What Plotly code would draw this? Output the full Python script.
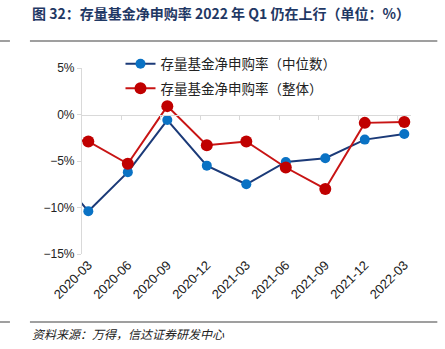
import plotly.graph_objects as go

categories = ["2019-12", "2020-03", "2020-06", "2020-09", "2020-12", "2021-03",
              "2021-06", "2021-09", "2021-12", "2022-03"]
median_vals = [-5.4, -10.4, -6.2, -0.6, -5.5, -7.5, -5.1, -4.7, -2.7, -2.1]
overall_vals = [-2.2, -2.9, -5.3, 0.9, -3.3, -2.9, -5.7, -8.0, -0.9, -0.8]
yticks = [5, 0, -5, -10, -15]
ytick_text = ["5%", "0%", "−5%", "−10%", "−15%"]

xpos = list(range(-1, len(categories) - 1))
shown_pos = xpos[1:]
shown_labels = categories[1:]

FONT = "Noto Sans CJK SC"
fig = go.Figure()

fig.add_trace(go.Scatter(
    x=xpos, y=median_vals, mode="lines+markers",
    name="存量基金净申购率（中位数）", legendgroup="a",
    line=dict(color="#1B3A78", width=2),
    marker=dict(color="#0A72C4", size=10),
))
fig.add_trace(go.Scatter(
    x=xpos, y=overall_vals, mode="lines+markers",
    name="存量基金净申购率（整体）", legendgroup="b",
    line=dict(color="#C81414", width=2),
    marker=dict(color="#C00000", size=12),
))

xr = [-0.16, 8.17]
fig.update_layout(
    width=445, height=349,
    margin=dict(l=82, r=34, t=68, b=95),
    paper_bgcolor="white", plot_bgcolor="white",
    showlegend=True,
    legend=dict(x=0.117, y=1.105, xanchor="left", yanchor="top",
                font=dict(family=FONT, size=13.5, color="#222"),
                bgcolor="rgba(0,0,0,0)", tracegroupgap=4,
                itemwidth=30),
    xaxis=dict(range=xr, tickmode="array", tickvals=shown_pos, ticktext=shown_labels,
               tickangle=-45, showgrid=False, zeroline=False, showline=False,
               ticks="", tickfont=dict(family="Liberation Sans, Arial", size=13, color="#222")),
    xaxis2=dict(range=xr, overlaying="x", anchor="free", position=0.75,
                showline=True, linecolor="#d9d9d9", linewidth=1.2,
                tickmode="array", tickvals=[k - 0.16 for k in range(1, 9)],
                ticks="outside", ticklen=4, tickcolor="#d9d9d9",
                showticklabels=False, showgrid=False, zeroline=False),
    yaxis=dict(range=[-15, 5], tickmode="array", tickvals=yticks, ticktext=ytick_text,
               showgrid=False, zeroline=False, showline=True, linecolor="#d9d9d9",
               linewidth=1.2, ticks="outside", ticklen=4, tickcolor="#d9d9d9",
               tickfont=dict(family="Liberation Sans, Arial", size=12, color="#222")),
)
# dummy trace to activate xaxis2
fig.add_trace(go.Scatter(x=[None], y=[None], xaxis="x2", showlegend=False, hoverinfo="skip"))

fig.add_annotation(text="<b>图 32：存量基金净申购率 2022 年 Q1 仍在上行（单位：%）</b>",
                   xref="paper", yref="paper", x=(30 - 82) / 328.7, y=(349 - 95 - 13) / 186,
                   xanchor="left", yanchor="middle", showarrow=False,
                   font=dict(family=FONT, size=14, color="#1F3864"))
fig.add_annotation(text="<i>资料来源：万得，信达证券研发中心</i>",
                   xref="paper", yref="paper", x=(30 - 82) / 328.7, y=(349 - 95 - 333) / 186,
                   xanchor="left", yanchor="middle", showarrow=False,
                   font=dict(family=FONT, size=12, color="#222"))
for yy in [41, 322]:
    fig.add_shape(type="line", xref="paper", yref="paper",
                  x0=(30 - 82) / 328.7, x1=(437 - 82) / 328.7,
                  y0=(349 - 95 - yy) / 186, y1=(349 - 95 - yy) / 186,
                  line=dict(color="#7f7f7f", width=1.5))
    fig.add_shape(type="line", xref="paper", yref="paper",
                  x0=(0 - 82) / 328.7, x1=(10 - 82) / 328.7,
                  y0=(349 - 95 - yy) / 186, y1=(349 - 95 - yy) / 186,
                  line=dict(color="#7f7f7f", width=1.5))

fig.write_html("out.html")
